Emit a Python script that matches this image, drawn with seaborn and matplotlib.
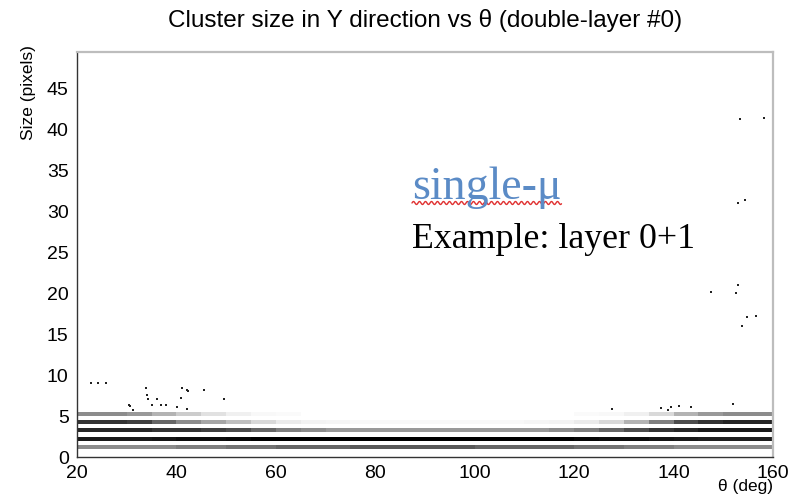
import numpy as np
import pandas as pd
import matplotlib
matplotlib.use("Agg")
import matplotlib.pyplot as plt
import seaborn as sns
from matplotlib.colors import LinearSegmentedColormap
from matplotlib.ticker import MultipleLocator
from matplotlib.lines import Line2D

# ---- data ----
theta_edges = [20, 25, 30, 35, 40, 45, 50, 55, 60, 65, 70, 75, 80, 85, 90,
               95, 100, 105, 110, 115, 120, 125, 130, 135, 140, 145, 150, 155, 160]
cluster_sizes = [1, 2, 3, 4, 5]
density_size1 = [0.45, 0.45, 0.45, 0.45, 0.5, 0.5, 0.55, 0.55, 0.6, 0.6, 0.6, 0.65, 0.65, 0.65,
                 0.65, 0.65, 0.6, 0.6, 0.6, 0.6, 0.55, 0.55, 0.5, 0.5, 0.45, 0.45, 0.45, 0.45]
density_size2 = [0.9, 0.9, 0.9, 0.92, 0.95, 0.95, 0.97, 1, 1, 1, 1, 1, 1, 1,
                 1, 1, 1, 1, 1, 1, 0.97, 0.95, 0.95, 0.92, 0.9, 0.88, 0.88, 0.88]
density_size3 = [0.85, 0.85, 0.85, 0.8, 0.8, 0.75, 0.7, 0.6, 0.5, 0.45, 0.4, 0.4, 0.4, 0.4,
                 0.4, 0.4, 0.4, 0.4, 0.4, 0.45, 0.5, 0.6, 0.7, 0.8, 0.85, 0.9, 0.9, 0.9]
density_size4 = [0.8, 0.8, 0.75, 0.6, 0.45, 0.35, 0.25, 0.15, 0.08, 0.05, 0.04, 0.03, 0.03, 0.03,
                 0.03, 0.03, 0.03, 0.03, 0.04, 0.05, 0.08, 0.15, 0.3, 0.5, 0.7, 0.8, 0.85, 0.85]
density_size5 = [0.45, 0.45, 0.4, 0.3, 0.2, 0.12, 0.06, 0.03, 0.02, 0, 0, 0, 0, 0,
                 0, 0, 0, 0, 0, 0, 0.02, 0.03, 0.06, 0.15, 0.3, 0.4, 0.45, 0.45]

outlier_theta = [22.8, 24.2, 25.8, 33.9, 34.1, 36.1, 30.5, 35.1, 36.9, 37.9, 41.1, 42.2,
                 40.9, 45.6, 49.6, 40.1, 42.4, 34.3, 30.7, 31.3, 42.2,
                 153.3, 158.2, 152.9, 154.3, 152.9, 152.5, 147.5, 154.7, 156.5, 153.7,
                 139.4, 151.9, 127.7, 138.8, 137.4, 141.0, 143.5]
outlier_size = [9.1, 9.1, 9.1, 8.4, 7.6, 7.1, 6.4, 6.4, 6.4, 6.4, 8.4, 8.2,
                7.2, 8.2, 7.1, 6.1, 8.1, 7.1, 6.2, 5.8, 5.9,
                41.3, 41.4, 31.0, 31.4, 21.0, 20.0, 20.2, 17.1, 17.2, 16.0,
                6.1, 6.5, 5.9, 5.8, 6.0, 6.2, 6.1]

title = "Cluster size in Y direction vs \u03b8 (double-layer #0)"
xlabel = "\u03b8 (deg)"
ylabel = "Size (pixels)"
note1 = "single-\u03bc"
note2 = "Example: layer 0+1"

# ---- build table ----
densities = [density_size1, density_size2, density_size3, density_size4, density_size5]
rows = []
for s, dens in zip(cluster_sizes, densities):
    for i, d in enumerate(dens):
        rows.append({"theta": (theta_edges[i] + theta_edges[i + 1]) / 2,
                     "size": s + 0.25, "w": d})
df = pd.DataFrame(rows)
out_df = pd.DataFrame({"theta": outlier_theta, "size": outlier_size})

sns.set_style("white")
plt.rcParams["font.family"] = ["Liberation Sans", "DejaVu Sans"]
plt.rcParams["text.color"] = "black"
plt.rcParams["axes.labelcolor"] = "black"

W, H = 805, 496
fig = plt.figure(figsize=(W / 100, H / 100), dpi=100)
ax = fig.add_axes([77 / W, 1 - 457 / H, (773 - 77) / W, (457 - 52) / H])

cmap = LinearSegmentedColormap.from_list("bw", ["#ffffff", "#000000"])
ybins = np.arange(0, 50.01, 0.5)
sns.histplot(data=df, x="theta", y="size", weights="w",
             bins=[theta_edges, ybins], cmap=cmap, vmin=0, vmax=1,
             thresh=0, ax=ax)
sns.scatterplot(data=out_df, x="theta", y="size", ax=ax, marker="s", s=3,
                color="#222222", linewidth=0)

ax.set_xlim(20, 160)
ax.set_ylim(0, 49.5)
ax.xaxis.set_major_locator(MultipleLocator(20))
ax.xaxis.set_minor_locator(MultipleLocator(5))
ax.yaxis.set_major_locator(MultipleLocator(5))
ax.yaxis.set_minor_locator(MultipleLocator(1))
ax.tick_params(which="both", direction="in", top=False, right=False, colors="black")
ax.tick_params(axis="y", which="major", length=15, width=1, pad=6, labelsize=14)
ax.tick_params(axis="y", which="minor", length=7, width=0.8)
ax.tick_params(axis="x", which="major", length=12, width=1, pad=6, labelsize=14)
ax.tick_params(axis="x", which="minor", length=6, width=0.8)

for side in ["left", "bottom"]:
    ax.spines[side].set_color("#333333")
    ax.spines[side].set_linewidth(1.0)
for side in ["top", "right"]:
    ax.spines[side].set_color("#bdbdbd")
    ax.spines[side].set_linewidth(1.6)

ax.set_xlabel(xlabel, loc="right", fontsize=12.5)
ax.xaxis.set_label_coords(1.0, (457 - 479) / 405)
ax.set_ylabel(ylabel, loc="top", fontsize=12.5)
ax.yaxis.set_label_coords((36 - 77) / 696, (457 - 45) / 405)
ax.set_title(title, fontsize=17.5, pad=18, color="black")

t1 = fig.text(412 / W, 1 - 199 / H, note1, color="#5b8bc6", fontsize=33,
              family=["Liberation Serif", "DejaVu Serif"], va="baseline")
t2 = fig.text(412 / W, 1 - 248 / H, note2, color="black", fontsize=25.8,
              family=["Liberation Serif", "DejaVu Serif"], va="baseline")

fig.canvas.draw()
bb = t1.get_window_extent()
xs = np.linspace(bb.x0, bb.x1, 300)
y0 = H - 203
ys = y0 + 1.5 * np.sin((xs - bb.x0) / 6.0 * 2 * np.pi)
fig.add_artist(Line2D(xs / W, ys / H, transform=fig.transFigure, color="#e03030", lw=1.0))

fig.savefig("out.png", dpi=100)
